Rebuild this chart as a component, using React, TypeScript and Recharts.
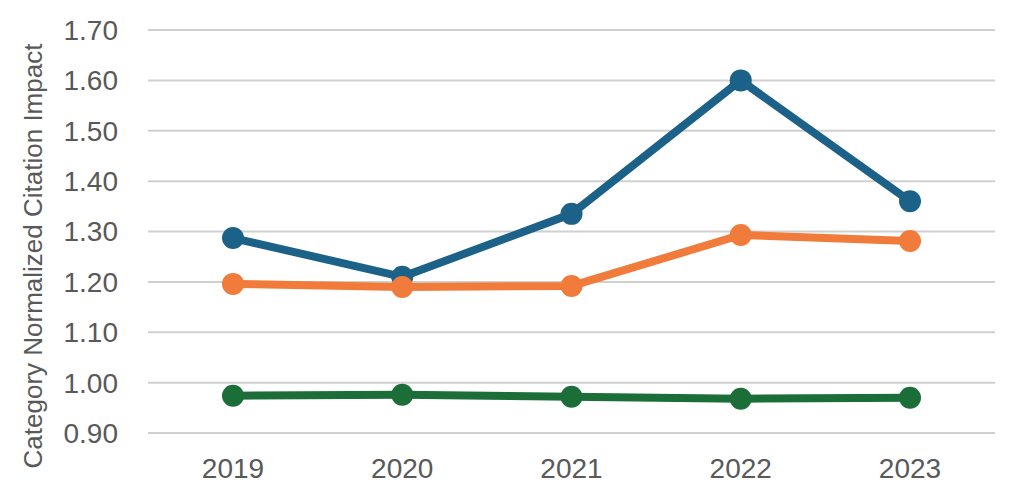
import React from "react";
import { LineChart, Line, XAxis, YAxis, CartesianGrid } from "recharts";

const years = ["2019", "2020", "2021", "2022", "2023"];
const blueSeries = [1.287, 1.21, 1.335, 1.6, 1.36];
const orangeSeries = [1.196, 1.19, 1.192, 1.293, 1.281];
const greenSeries = [0.974, 0.976, 0.972, 0.968, 0.97];
const yTicks = [0.9, 1.0, 1.1, 1.2, 1.3, 1.4, 1.5, 1.6, 1.7];

const data = years.map((y, i) => ({
  year: y,
  blue: blueSeries[i],
  orange: orangeSeries[i],
  green: greenSeries[i],
}));

const FONT = "'Liberation Sans', Arial, sans-serif";
const TEXT = "#595959";

const YLabel = () => {
  const x = 33;
  const y = 256;
  return (
    <text
      x={x}
      y={y}
      transform={`rotate(-90 ${x} ${y})`}
      textAnchor="middle"
      dominantBaseline="central"
      fill={TEXT}
      fontSize={26}
      fontFamily={FONT}
    >
      Category Normalized Citation Impact
    </text>
  );
};

export default function App() {
  return (
    <div style={{ position: "absolute", left: 0, top: 0, width: 1017, height: 499, background: "#fff" }}>
      <LineChart
        width={1017}
        height={499}
        data={data}
        margin={{ top: 30, right: 22, bottom: 0, left: 0 }}
      >
        <CartesianGrid vertical={false} stroke="#d0d0d0" strokeWidth={2} />
        <XAxis
          dataKey="year"
          height={66}
          padding={{ left: 85, right: 85 }}
          axisLine={false}
          tickLine={false}
          tickSize={0}
          tickMargin={25}
          tick={{ fill: TEXT, fontSize: 28, fontFamily: FONT }}
        />
        <YAxis
          width={148}
          domain={[0.9, 1.7]}
          ticks={yTicks}
          interval={0}
          axisLine={false}
          tickLine={false}
          tickSize={0}
          tickMargin={30}
          tickFormatter={(v: number) => v.toFixed(2)}
          tick={{ fill: TEXT, fontSize: 28, fontFamily: FONT }}
          label={<YLabel />}
        />
        <Line
          dataKey="blue"
          stroke="#1c6187"
          strokeWidth={8}
          dot={{ r: 11, fill: "#1c6187", stroke: "#1c6187", strokeWidth: 0 }}
          isAnimationActive={false}
        />
        <Line
          dataKey="orange"
          stroke="#f07b3b"
          strokeWidth={8}
          dot={{ r: 11, fill: "#f07b3b", stroke: "#f07b3b", strokeWidth: 0 }}
          isAnimationActive={false}
        />
        <Line
          dataKey="green"
          stroke="#1b6e38"
          strokeWidth={8}
          dot={{ r: 11, fill: "#1b6e38", stroke: "#1b6e38", strokeWidth: 0 }}
          isAnimationActive={false}
        />
      </LineChart>
    </div>
  );
}
